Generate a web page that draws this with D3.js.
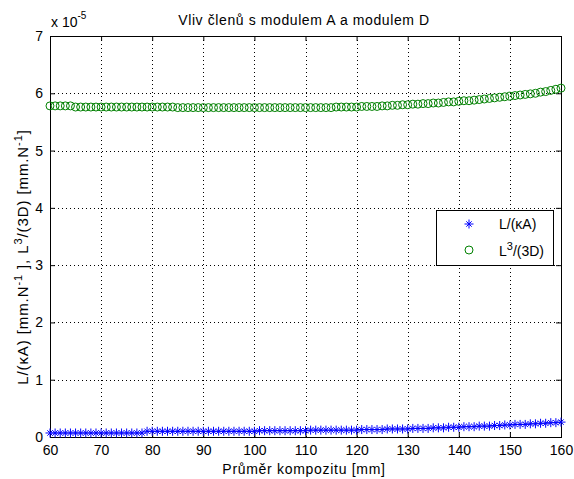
<!DOCTYPE html>
<html><head><meta charset="utf-8">
<script src="https://cdn.jsdelivr.net/npm/d3@7"></script>
<style>body{margin:0;background:#fff}svg{display:block}text{font-family:"Liberation Sans",Arial,sans-serif;fill:#000}</style>
</head><body><svg id="c" width="574" height="479"></svg>
<script>
const diameters = d3.range(60, 161, 1);
// L/(kA) values, x 1e-5 mm/N
const seriesA = [
0.07,0.07,0.07,0.07,0.07,0.07,0.07,0.07,0.07,0.07,
0.07,0.07,0.07,0.07,0.07,0.07,0.07,0.07,0.07,0.10,
0.10,0.10,0.10,0.10,0.10,0.10,0.10,0.10,0.10,0.10,
0.10,0.10,0.10,0.10,0.10,0.10,0.10,0.10,0.10,0.10,
0.10,0.11,0.11,0.11,0.11,0.11,0.11,0.11,0.11,0.11,
0.11,0.12,0.12,0.12,0.12,0.12,0.12,0.12,0.12,0.12,
0.12,0.13,0.13,0.13,0.13,0.13,0.14,0.14,0.14,0.14,
0.14,0.15,0.15,0.15,0.15,0.16,0.16,0.16,0.17,0.17,
0.17,0.18,0.18,0.18,0.19,0.19,0.19,0.20,0.20,0.21,
0.21,0.22,0.22,0.22,0.23,0.23,0.24,0.24,0.25,0.25,
0.26];
// L^3/(3D) values, x 1e-5 mm/N
const seriesB = [
5.78,5.78,5.78,5.78,5.78,5.76,5.76,5.76,5.76,5.76,
5.76,5.76,5.76,5.76,5.76,5.76,5.76,5.76,5.76,5.76,
5.76,5.76,5.76,5.76,5.76,5.75,5.75,5.75,5.75,5.75,
5.75,5.75,5.75,5.75,5.75,5.75,5.75,5.75,5.75,5.75,
5.75,5.75,5.75,5.75,5.75,5.75,5.75,5.75,5.75,5.75,
5.75,5.75,5.75,5.75,5.75,5.75,5.76,5.76,5.76,5.76,
5.76,5.77,5.77,5.77,5.77,5.78,5.78,5.79,5.79,5.80,
5.80,5.81,5.81,5.82,5.82,5.83,5.83,5.84,5.85,5.85,
5.86,5.87,5.87,5.88,5.89,5.90,5.91,5.92,5.93,5.94,
5.95,5.96,5.97,5.98,5.99,6.00,6.02,6.03,6.05,6.07,
6.09];
const xTicks = [60,70,80,90,100,110,120,130,140,150,160];
const yTicks = [0,1,2,3,4,5,6,7];
const title = "Vliv členů s modulem A a modulem D";
const xLabel = "Průměr kompozitu [mm]";

const svg = d3.select("#c");
const L=50, R=561, T=36, B=437;
const x = d3.scaleLinear().domain([60,160]).range([L,R]);
const y = d3.scaleLinear().domain([0,7]).range([B,T]);

// grid
const g = svg.append("g");
g.selectAll(".gx").data(xTicks.slice(1,-1)).enter().append("line")
 .attr("x1",d=>Math.round(x(d))+0.5).attr("x2",d=>Math.round(x(d))+0.5).attr("y1",T).attr("y2",B)
 .attr("stroke","#000").attr("stroke-width",1).attr("stroke-dasharray","1,3");
g.selectAll(".gy").data(yTicks.slice(1,-1)).enter().append("line")
 .attr("y1",d=>Math.round(y(d))+0.5).attr("y2",d=>Math.round(y(d))+0.5).attr("x1",L).attr("x2",R)
 .attr("stroke","#000").attr("stroke-width",1).attr("stroke-dasharray","1,3");

// axes
const fs=14;
const ax = svg.append("g").attr("transform",`translate(0,${B})`)
 .call(d3.axisBottom(x).tickValues(xTicks).tickSizeInner(-5).tickSizeOuter(0).tickPadding(8));
const ay = svg.append("g").attr("transform",`translate(${L},0)`)
 .call(d3.axisLeft(y).tickValues(yTicks).tickFormat(d3.format("d")).tickSizeInner(-5).tickSizeOuter(0).tickPadding(7));
const axT = svg.append("g").attr("transform",`translate(0,${T})`)
 .call(d3.axisTop(x).tickValues(xTicks).tickSizeInner(-5).tickSizeOuter(0).tickFormat(""));
const ayR = svg.append("g").attr("transform",`translate(${R},0)`)
 .call(d3.axisRight(y).tickValues(yTicks).tickSizeInner(-5).tickSizeOuter(0).tickFormat(""));
[ax,ay,axT,ayR].forEach(a=>{a.select(".domain").remove();a.selectAll("line").attr("stroke","#000");
 a.selectAll("text").attr("font-size",fs).style("font-family","'Liberation Sans',Arial,sans-serif");});
svg.append("rect").attr("x",L+0.5).attr("y",T+0.5).attr("width",R-L).attr("height",B-T)
 .attr("fill","none").attr("stroke","#000");

// data
const ptsA = diameters.map((d,i)=>[x(d),y(seriesA[i])]);
const ptsB = diameters.map((d,i)=>[x(d),y(seriesB[i])]);
const star = (sel,cx,cy,r)=>{
  const p = `M${cx-r},${cy}L${cx+r},${cy}M${cx},${cy-r}L${cx},${cy+r}`+
    `M${cx-r*0.6},${cy-r*0.6}L${cx+r*0.6},${cy+r*0.6}M${cx-r*0.6},${cy+r*0.6}L${cx+r*0.6},${cy-r*0.6}`;
  sel.append("path").attr("d",p).attr("stroke","#0000ff").attr("stroke-width",1).attr("fill","none");
};
const ga = svg.append("g");
ptsA.forEach(p=>star(ga,p[0],p[1],4.5));
svg.append("g").selectAll("circle").data(ptsB).enter().append("circle")
 .attr("cx",d=>d[0]).attr("cy",d=>d[1]).attr("r",4)
 .attr("fill","none").attr("stroke","#008000").attr("stroke-width",1);

// legend
const lg = svg.append("g");
lg.append("rect").attr("x",436.5).attr("y",210.5).attr("width",117).attr("height",55)
 .attr("fill","#fff").attr("stroke","#000");
star(lg,469,224,4.5);
lg.append("circle").attr("cx",469).attr("cy",250).attr("r",4).attr("fill","none").attr("stroke","#008000");
lg.append("text").attr("x",499).attr("y",229).attr("font-size",fs).text("L/(κA)");
const t2 = lg.append("text").attr("x",499).attr("y",256).attr("font-size",fs);
t2.append("tspan").text("L");
t2.append("tspan").attr("dy",-6).attr("font-size",11).text("3");
t2.append("tspan").attr("dy",6).text("/(3D)");

// title, labels
svg.append("text").attr("x",304).attr("y",25).attr("text-anchor","middle").attr("font-size",fs)
 .attr("letter-spacing",0.6).text(title);
const ex = svg.append("text").attr("x",51).attr("y",27).attr("font-size",fs);
ex.append("tspan").text("x 10");
ex.append("tspan").attr("dy",-8).attr("font-size",10).text("-5");
svg.append("text").attr("x",304).attr("y",474).attr("text-anchor","middle").attr("font-size",fs)
 .attr("letter-spacing",0.7).text(xLabel);
const yl = svg.append("text").attr("transform","translate(28,257) rotate(-90)").attr("text-anchor","middle")
 .attr("font-size",15).attr("letter-spacing",0.9);
yl.append("tspan").text("L/(κA) [mm.N");
yl.append("tspan").attr("dy",-6).attr("font-size",11).text("-1");
yl.append("tspan").attr("dy",6).text(" ], L");
yl.append("tspan").attr("dy",-6).attr("font-size",11).text("3");
yl.append("tspan").attr("dy",6).text("/(3D) [mm.N");
yl.append("tspan").attr("dy",-6).attr("font-size",11).text("-1");
yl.append("tspan").attr("dy",6).text("]");
</script></body></html>
